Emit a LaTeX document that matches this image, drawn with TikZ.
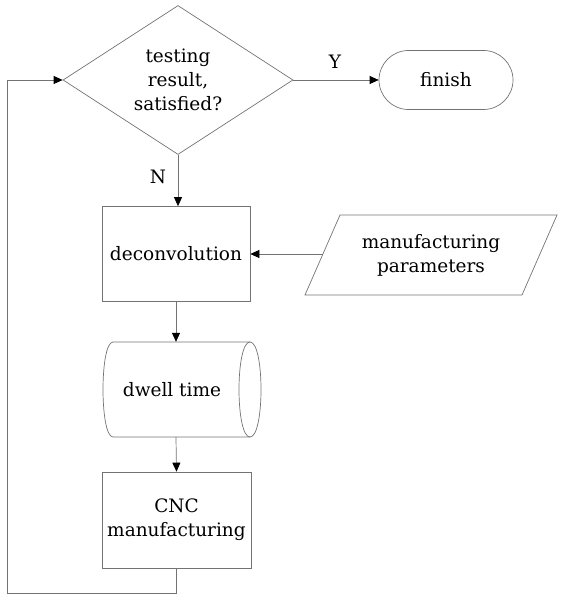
\documentclass[tikz,border=0pt]{standalone}
\usepackage{fontspec}
\setmainfont{DejaVu Serif}
\usetikzlibrary{shapes.geometric,shapes.misc,arrows.meta}
\begin{document}
\begin{tikzpicture}[x=1pt,y=-1pt,
  line/.style={draw=black!55, line width=0.7pt},
  arr/.style={line, -{Triangle[length=9pt,width=8pt,color=black]}},
  txt/.style={font=\fontsize{18.5}{24}\selectfont, align=center, text=black},
  box/.style={txt, line, rectangle, inner sep=0pt},
]
\useasboundingbox (0,0) rectangle (581,601);
\node[txt, line, diamond, aspect=1.544, minimum width=230, minimum height=149, inner sep=0pt] (dia) at (178,80) {testing\\result,\\satisfied?};
\node[txt, line, rounded rectangle, minimum width=134, minimum height=59, inner sep=0pt] (fin) at (446,80) {finish};
\node[box, minimum width=148, minimum height=95] (dec) at (176,254) {deconvolution};
\node[txt] (par) at (431,255) {manufacturing\\parameters};
\draw[line] (305,295) -- (340,215) -- (557,215) -- (522,295) -- cycle;
\coordinate (parw) at (322.5,254);
\node[txt, minimum height=95, minimum width=140, inner sep=0pt] (dw) at (176,389.5) {};
\node[txt] (dwt) at (172,389.5) {dwell time};
\draw[line] (250,342) -- (113,342) .. controls (99.67,342) and (99.67,437) .. (113,437) -- (250,437);
\draw[line] (250,342) .. controls (264.67,342) and (264.67,437) .. (250,437) .. controls (235.33,437) and (235.33,342) .. (250,342);
\node[box, minimum width=149, minimum height=96] (cnc) at (176.5,520) {CNC\\manufacturing};
\coordinate (lp) at (7,593);
\node[txt] (N) at (158,177) {N};
\node[txt] (Y) at (335,62) {Y};
\draw[arr] (dia.east) -- (fin.west);
\draw[arr] (dia.south) -- (dia.south |- dec.north);
\draw[arr] (parw) -- (dec.east);
\draw[arr] (dec.south) -- (dec.south |- dw.north);
\draw[arr] (dec.south |- dw.south) -- (cnc.north);
\draw[arr] (cnc.south) |- (lp) |- (dia.west);
\end{tikzpicture}
\end{document}
